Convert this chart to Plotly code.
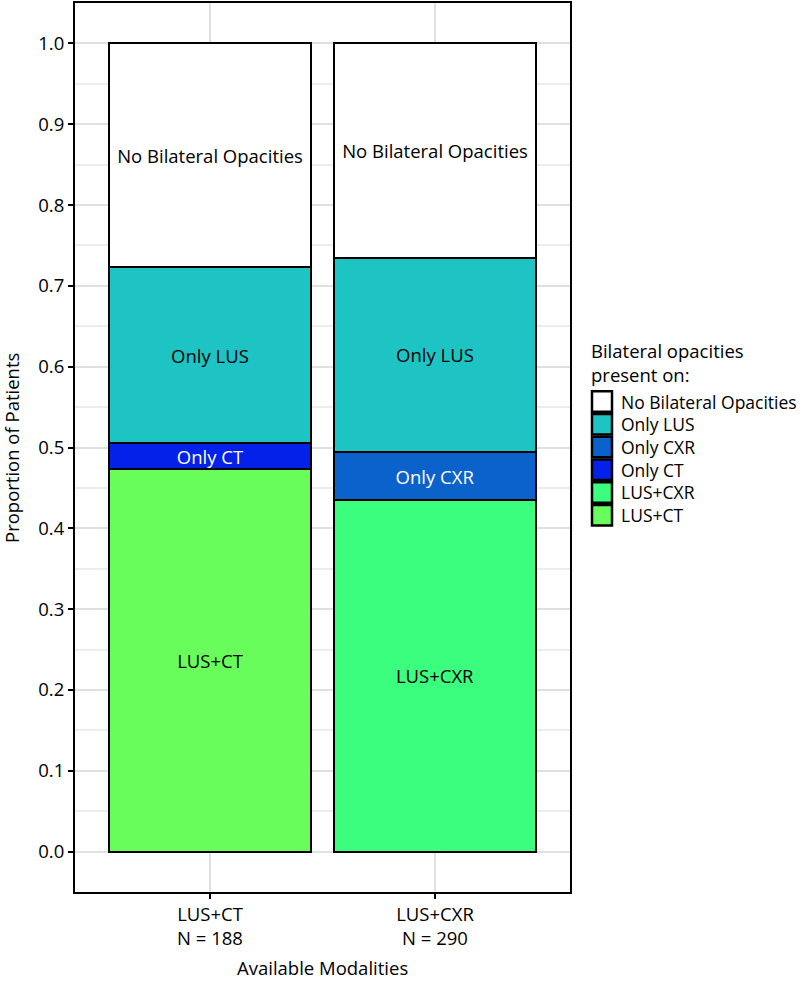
import plotly.graph_objects as go

# ---- data ----
modalities = ["LUS+CT", "LUS+CXR"]
tick_labels = ["LUS+CT<br>N = 188", "LUS+CXR<br>N = 290"]
# proportions per group (bottom to top in stack)
series = [
    ("LUS+CT",                 [0.473, None], "#69FD5C", "black"),
    ("LUS+CXR",                [None, 0.435], "#3CFE7E", "black"),
    ("Only CT",                [0.032, None], "#0321E8", "white"),
    ("Only CXR",               [None, 0.059], "#0B62CA", "white"),
    ("Only LUS",               [0.218, 0.241], "#1EC4C4", "black"),
    ("No Bilateral Opacities", [0.277, 0.265], "#FFFFFF", "black"),
]
legend_order = ["No Bilateral Opacities", "Only LUS", "Only CXR", "Only CT", "LUS+CXR", "LUS+CT"]

FONT = "Open Sans"
FS = 18.5
FS_LEG = 17.5
W, H = 808, 981
L, R, T, B = 75, 570, 1, 892

fig = go.Figure()
for name, vals, color, tcol in series:
    fig.add_trace(go.Bar(
        x=modalities, y=vals, name=name,
        marker=dict(color=color, line=dict(color="black", width=2)),
        text=[name if v is not None else None for v in vals],
        textposition="inside", insidetextanchor="middle", textangle=0,
        constraintext="none",
        insidetextfont=dict(color=tcol, size=FS, family=FONT),
        width=0.9, showlegend=False, hoverinfo="skip",
    ))

def px_x(p):
    return (p - L) / (R - L)

def px_y(p):
    return (B - p) / (B - T)

colors = {n: c for n, _, c, _ in series}
shapes = []
annotations = []
annotations.append(dict(
    xref="paper", yref="paper", x=px_x(589), y=px_y(335), xanchor="left", yanchor="top",
    text="Bilateral opacities<br>present on:", showarrow=False, align="left",
    font=dict(size=FS, family=FONT, color="black"),
))
pitch = 22.8
for i, name in enumerate(legend_order):
    y0 = 389 + i * pitch
    shapes.append(dict(
        type="rect", xref="paper", yref="paper",
        x0=px_x(592), x1=px_x(612), y0=px_y(y0 + 1.2), y1=px_y(y0 + pitch - 1.2),
        fillcolor=colors[name], line=dict(color="black", width=2.5),
    ))
    annotations.append(dict(
        xref="paper", yref="paper", x=px_x(620), y=px_y(y0 + pitch / 2),
        xanchor="left", yanchor="middle", text=name, showarrow=False,
        borderpad=0,
        font=dict(size=FS_LEG, family=FONT, color="black"),
    ))

# axis titles
annotations.append(dict(
    xref="paper", yref="paper", x=px_x(12), y=px_y(447), xanchor="center", yanchor="middle",
    text="Proportion of Patients", textangle=-90, showarrow=False,
    font=dict(size=FS, family=FONT, color="black"),
))
annotations.append(dict(
    xref="paper", yref="paper", x=px_x(322), y=px_y(968), xanchor="center", yanchor="middle",
    text="Available Modalities", showarrow=False,
    font=dict(size=FS, family=FONT, color="black"),
))

fig.update_layout(
    width=W, height=H, barmode="stack",
    margin=dict(l=L, r=W - R, t=T, b=H - B, pad=0),
    paper_bgcolor="white", plot_bgcolor="white",
    font=dict(family=FONT, size=FS, color="black"),
    shapes=shapes, annotations=annotations,
    xaxis=dict(
        range=[-0.6, 1.6], tickmode="array", tickvals=[0, 1], ticktext=tick_labels,
        showgrid=True, gridcolor="#DDE1E1", gridwidth=2,
        showline=True, linecolor="black", linewidth=2, mirror=True,
        ticks="outside", ticklen=5, tickwidth=2, tickcolor="black",
        tickfont=dict(size=FS, family=FONT, color="black"), zeroline=False,
    ),
    yaxis=dict(
        range=[-0.05, 1.05], tickmode="linear", tick0=0, dtick=0.1, tickformat=".1f",
        showgrid=True, gridcolor="#DDE1E1", gridwidth=2,
        minor=dict(dtick=0.05, showgrid=True, gridcolor="#EBEDED", gridwidth=1.5, ticks=""),
        showline=True, linecolor="black", linewidth=2, mirror=True,
        ticks="outside", ticklen=5, tickwidth=2, tickcolor="black",
        tickfont=dict(size=FS, family=FONT, color="black"), zeroline=False,
    ),
)

fig.write_html("out.html", config={"displayModeBar": False},
               post_script="document.body.style.margin='0';")
